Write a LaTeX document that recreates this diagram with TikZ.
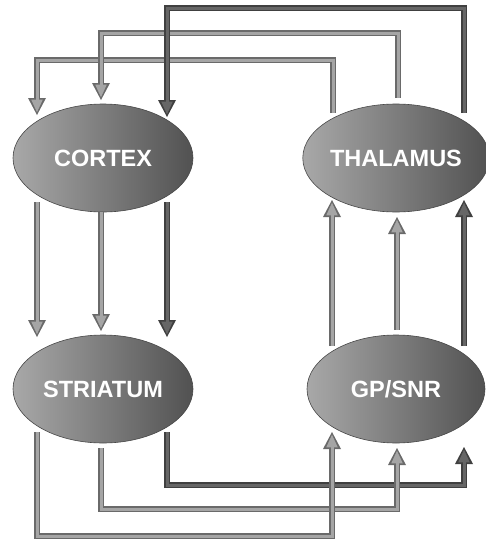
\documentclass[tikz,border=0pt]{standalone}
\usepackage{fontspec}
\setmainfont{Liberation Sans}
\usetikzlibrary{shapes.geometric,arrows.meta}
\definecolor{lfill}{HTML}{A5A5A5}
\definecolor{lline}{HTML}{6A6A6A}
\definecolor{dfill}{HTML}{666666}
\definecolor{dline}{HTML}{404040}
\tikzset{
  region/.style={ellipse, minimum width=180pt, minimum height=108pt, inner sep=0pt,
    left color=black!34, middle color=black!44, right color=black!68,
    draw=black!72, line width=0.6pt,
    font=\bfseries\fontsize{23.5}{24}\selectfont, text=white},
  louter/.style={line width=6.5pt, draw=lline, line join=miter,
    -{Triangle[length=17pt,width=18pt,line width=0pt]}},
  linner/.style={line width=3pt, draw=lfill, line join=miter, shorten >=2.8pt,
    -{Triangle[length=12.5pt,width=11.5pt,line width=0pt]}},
  douter/.style={line width=6.5pt, draw=dline, line join=miter,
    -{Triangle[length=17pt,width=18pt,line width=0pt]}},
  dinner/.style={line width=3pt, draw=dfill, line join=miter, shorten >=2.8pt,
    -{Triangle[length=12.5pt,width=11.5pt,line width=0pt]}}
}
\newcommand\gconn[2]{\draw[#1outer] #2; \draw[#1inner] #2;}
\begin{document}
\begin{tikzpicture}[x=1pt,y=-1pt]
\useasboundingbox (0,0) rectangle (486,541);
% regions
\node[region] (cortex) at (103,158) {CORTEX};
\node[region, minimum width=178pt] (thal) at (396,158) {THALAMUS};
\node[region] (stri) at (103,389) {STRIATUM};
\node[region, minimum width=178pt] (gp) at (396,389) {GP/SNR};
% connector end points
\coordinate (cb1) at (37,202);
\coordinate (cb2) at (101,212);
\coordinate (cb3) at (167,202);
\coordinate (st1) at (37,337);
\coordinate (st2) at (101,331);
\coordinate (st3) at (167,337);
\coordinate (ct1) at (37,115);
\coordinate (ct2) at (101,100);
\coordinate (ct3) at (167,117);
\coordinate (tt1) at (333,113);
\coordinate (tt2) at (398,98);
\coordinate (tt3) at (464,113);
\coordinate (tb1) at (332,200);
\coordinate (tb2) at (397,217);
\coordinate (tb3) at (464,200);
\coordinate (gt1) at (332,346);
\coordinate (gt2) at (397,330);
\coordinate (gt3) at (464,346);
\coordinate (sb1) at (37,432);
\coordinate (sb2) at (101,448);
\coordinate (sb3) at (167,432);
\coordinate (gb1) at (332,432);
\coordinate (gb2) at (397,448);
\coordinate (gb3) at (464,447);
% cortex -> striatum
\gconn{l}{(cb1) -- (st1)}
\gconn{l}{(cb2) -- (st2)}
\gconn{d}{(cb3) -- (st3)}
% thalamus -> cortex
\gconn{l}{(tt1) -- (333,60) -- (37,60) -- (ct1)}
\gconn{l}{(tt2) -- (398,33) -- (101,33) -- (ct2)}
\gconn{d}{(tt3) -- (464,8) -- (167,8) -- (ct3)}
% gp/snr -> thalamus
\gconn{l}{(gt1) -- (tb1)}
\gconn{l}{(gt2) -- (tb2)}
\gconn{d}{(gt3) -- (tb3)}
% striatum -> gp/snr
\gconn{d}{(sb3) -- (167,485) -- (464,485) -- (gb3)}
\gconn{l}{(sb2) -- (101,509) -- (397,509) -- (gb2)}
\gconn{l}{(sb1) -- (37,536) -- (332,536) -- (gb1)}
\end{tikzpicture}
\end{document}
